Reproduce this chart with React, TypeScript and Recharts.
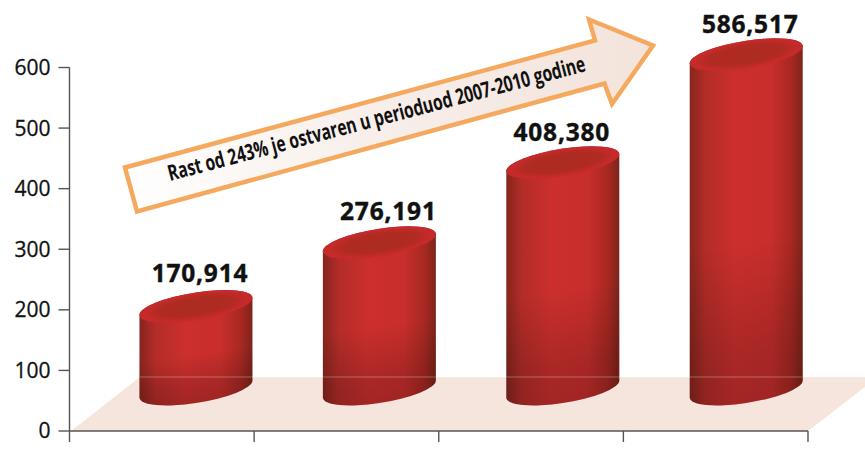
import React from "react";
import { BarChart, Bar, XAxis, YAxis } from "recharts";

// values in thousands, labelled with a decimal comma in the source
const years = ["2007", "2008", "2009", "2010"];
const slots = [0.5, 1.5, 2.5, 3.5];
const values = [170.914, 276.191, 408.38, 586.517];
const yTicks = [0, 100, 200, 300, 400, 500, 600];
const xTicks = [0, 1, 2, 3, 4];
const arrowText = "Rast od 243% je ostvaren u perioduod 2007-2010 godine";

const data = years.map((year, i) => ({ year, slot: slots[i], value: values[i] }));

const WIDTH = 865;
const HEIGHT = 455;
const AXIS_COLOR = "#555";
const FONT = "'Open Sans', sans-serif";

// 3D look: half width and tilt of the cylinder ellipses
const RX = 56.5;
const RY = 14;
const TILT = 8.5;

// the labels sit a little unevenly over the cylinders in the source
const LABEL_NUDGE = [
  [0, -2],
  [5, -1],
  [-5, 0],
  [0, 0],
];

function Cylinder(props: any) {
  const { x, y, width, height, value, index } = props;
  const cx = (x + width / 2) * 0.9935 + 35;
  const top = y - 21;
  const bottom = y + height - 42;
  const body = `M${-RX},${top} L${-RX},${bottom} A${RX},${RY} 0 0 0 ${RX},${bottom} L${RX},${top} A${RX},${RY} 0 0 0 ${-RX},${top} Z`;
  const nudge = LABEL_NUDGE[index] || [0, 0];
  return (
    <g>
      <g transform={`translate(${cx},0) matrix(1,${-TILT / RX},0,1,0,0)`}>
        <path d={body} fill="url(#cylBody)" />
        <path d={body} fill="url(#cylShade)" />
        <ellipse cx={0} cy={top} rx={RX} ry={RY} fill="url(#cylCap)" />
      </g>
      <text
        x={cx + 4 + nudge[0]}
        y={top - 22 + nudge[1]}
        textAnchor="middle"
        fontFamily={FONT}
        fontWeight={700}
        fontSize={24.5}
        letterSpacing={0.8}
        stroke="#111"
        strokeWidth={0.4}
        fill="#111"
      >
        {value.toFixed(3).replace(".", ",")}
      </text>
    </g>
  );
}

export default function App() {
  return (
    <div style={{ position: "absolute", left: 0, top: 0, width: WIDTH, height: HEIGHT, overflow: "hidden" }}>
      <svg width={WIDTH} height={HEIGHT} style={{ position: "absolute", left: 0, top: 0 }}>
        <defs>
          <linearGradient id="arrowFill" x1="0" y1="0" x2="1" y2="0">
            <stop offset="0" stopColor="#ffffff" />
            <stop offset="0.45" stopColor="#f8efeb" />
            <stop offset="1" stopColor="#f3e3db" />
          </linearGradient>
        </defs>
        <polygon points="71,431 140,377 865,377 865,387 808,431" fill="#f5e5dd" />
        <polygon
          points="125,167.5 595,40.5 589,19.5 653,45.5 612,104 604.5,83.5 137,211.5"
          fill="url(#arrowFill)"
          stroke="#f5a95f"
          strokeWidth={4.5}
        />
        <text
          x={170}
          y={181}
          transform="rotate(-14.8 170 181)"
          textLength={431}
          lengthAdjust="spacingAndGlyphs"
          fontFamily="'Liberation Sans Narrow', 'Open Sans', sans-serif"
          fontWeight={700}
          fontSize={22}
          fill="#111"
        >
          {arrowText}
        </text>
      </svg>

      <BarChart
        width={WIDTH}
        height={HEIGHT}
        data={data}
        margin={{ top: 67.5, right: 57, bottom: 0, left: 0 }}
        style={{ position: "absolute", left: 0, top: 0 }}
      >
        <defs>
          <linearGradient id="cylBody" x1="0" y1="0" x2="1" y2="0">
            <stop offset="0" stopColor="#86251d" />
            <stop offset="0.14" stopColor="#b32c28" />
            <stop offset="0.4" stopColor="#cc2f2d" />
            <stop offset="0.72" stopColor="#c82e2c" />
            <stop offset="0.9" stopColor="#a82822" />
            <stop offset="1" stopColor="#7d241b" />
          </linearGradient>
          <linearGradient id="cylShade" x1="0" y1="0" x2="0" y2="1">
            <stop offset="0" stopColor="#000" stopOpacity={0} />
            <stop offset="0.55" stopColor="#000" stopOpacity={0} />
            <stop offset="0.85" stopColor="#000" stopOpacity={0.16} />
            <stop offset="1" stopColor="#000" stopOpacity={0.2} />
          </linearGradient>
          <radialGradient id="cylCap" cx="0.5" cy="0.5" r="0.5">
            <stop offset="0" stopColor="#ad2b20" />
            <stop offset="0.65" stopColor="#b02b22" />
            <stop offset="0.9" stopColor="#c62a2a" />
            <stop offset="1" stopColor="#c52a2a" />
          </radialGradient>
        </defs>
        <XAxis
          dataKey="slot"
          type="number"
          domain={[0, 4]}
          ticks={xTicks}
          tickFormatter={() => ""}
          tickSize={11}
          height={24}
          stroke={AXIS_COLOR}
          strokeWidth={1.4}
        />
        <YAxis
          domain={[0, 600]}
          ticks={yTicks}
          width={69.5}
          tickSize={11}
          tickMargin={8}
          stroke={AXIS_COLOR}
          strokeWidth={1.4}
          tick={{ fill: "#111", stroke: "#111", strokeWidth: 0.3, fontFamily: FONT, fontSize: 21 }}
        />
        <Bar dataKey="value" barSize={113} isAnimationActive={false} shape={<Cylinder />} />
      </BarChart>

      <svg width={WIDTH} height={HEIGHT} style={{ position: "absolute", left: 0, top: 0, pointerEvents: "none" }}>
        <line x1={140} y1={377} x2={802} y2={377} stroke="#ffffff" strokeOpacity={0.3} strokeWidth={1} />
      </svg>
    </div>
  );
}
